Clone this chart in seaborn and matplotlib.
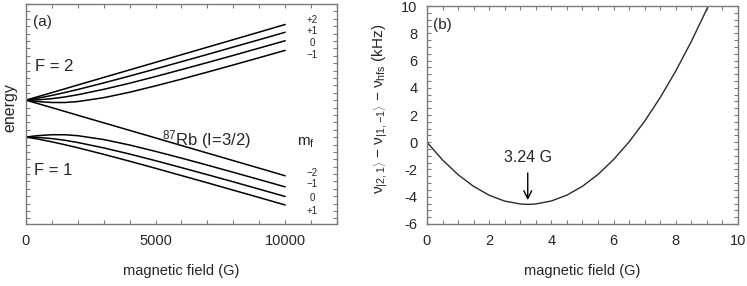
import numpy as np
import pandas as pd
import seaborn as sns
import matplotlib.pyplot as plt
from matplotlib.ticker import MultipleLocator, FuncFormatter

# ---- panel (a): Breit-Rabi levels, energy in arbitrary units
field_G = [0, 250, 500, 1000, 1500, 2000, 3000, 4000, 5000, 6000, 7000, 8000, 9000, 10000]

f2_p2 = [0, 0.26, 0.51, 1.02, 1.53, 2.05, 3.07, 4.09, 5.11, 6.14, 7.16, 8.18, 9.20, 10.23]
f2_p1 = [0, 0.14, 0.29, 0.64, 1.03, 1.44, 2.33, 3.26, 4.22, 5.20, 6.18, 7.18, 8.17, 9.18]
f2_0 = [0, 0.01, 0.05, 0.20, 0.43, 0.73, 1.46, 2.29, 3.19, 4.13, 5.08, 6.05, 7.04, 8.03]
f2_m1 = [0, -0.12, -0.21, -0.32, -0.32, -0.19, 0.33, 1.07, 1.93, 2.84, 3.79, 4.76, 5.74, 6.73]
f2_m2 = [0, -0.26, -0.51, -1.02, -1.53, -2.05, -3.07, -4.09, -5.11, -6.14, -7.16, -8.18, -9.20, -10.23]
f1_m1 = [-5, -4.88, -4.79, -4.68, -4.68, -4.81, -5.33, -6.07, -6.93, -7.84, -8.79, -9.76, -10.74, -11.73]
f1_0 = [-5, -5.01, -5.05, -5.20, -5.43, -5.73, -6.46, -7.29, -8.19, -9.13, -10.08, -11.05, -12.04, -13.03]
f1_p1 = [-5, -5.14, -5.29, -5.64, -6.03, -6.44, -7.33, -8.26, -9.22, -10.20, -11.18, -12.18, -13.17, -14.18]

upper_labels = ['+2', '+1', '0', '\u22121']
upper_label_y = [10.9, 9.32, 7.74, 6.08]
lower_labels = ['\u22122', '\u22121', '0', '+1']
lower_label_y = [-9.82, -11.39, -13.2, -14.96]

# ---- panel (b): clock transition shift vs field (kHz)
field_b = [0, 0.5, 1.0, 1.5, 2.0, 2.5, 3.0, 3.24, 3.5, 4.0, 4.5, 5.0, 5.5,
           6.0, 6.5, 7.0, 7.5, 8.0, 8.5, 9.0, 9.1]
shift_khz = [0, -1.30, -2.38, -3.24, -3.89, -4.32, -4.53, -4.56, -4.53, -4.31,
             -3.88, -3.23, -2.36, -1.27, 0.03, 1.55, 3.28, 5.23, 7.40, 9.78, 10.3]

levels = {'f2_p2': f2_p2, 'f2_p1': f2_p1, 'f2_0': f2_0, 'f2_m1': f2_m1,
          'f2_m2': f2_m2, 'f1_m1': f1_m1, 'f1_0': f1_0, 'f1_p1': f1_p1}
df = pd.concat([pd.DataFrame({'field': field_G, 'energy': v, 'state': k})
                for k, v in levels.items()])
df_b = pd.DataFrame({'field': field_b, 'shift': shift_khz})

sns.set_style("ticks")
plt.rcParams['font.family'] = ['Liberation Sans', 'DejaVu Sans']
plt.rcParams['mathtext.fontset'] = 'custom'
plt.rcParams['mathtext.rm'] = 'Liberation Sans'
plt.rcParams['mathtext.it'] = 'Liberation Sans:italic'

spine_col = '#7a7a7a'
fig = plt.figure(figsize=(7.47, 2.86), dpi=100)
ax1 = fig.add_axes([0.0348, 0.2168, 0.4163, 0.7692])
ax2 = fig.add_axes([0.5716, 0.2168, 0.4163, 0.7622])

sns.lineplot(data=df, x='field', y='energy', hue='state',
             palette=['black'] * 8, linewidth=1.1, legend=False, ax=ax1, sort=False)
ax1.set_xlim(0, 12000)
ax1.set_ylim(-16.75, 13.0)
ax1.xaxis.set_major_locator(MultipleLocator(5000))
ax1.xaxis.set_minor_locator(MultipleLocator(1000))
ax1.yaxis.set_major_locator(MultipleLocator(1))
ax1.tick_params(axis='y', labelleft=False)
ax1.set_xlabel('magnetic field (G)', fontsize=10.5, labelpad=12)
ax1.set_ylabel('energy', fontsize=11.5)
ax1.yaxis.set_label_coords(-0.027, 0.53)

for lab, y in zip(upper_labels + lower_labels, upper_label_y + lower_label_y):
    ax1.text(11030, y, lab, fontsize=7, ha='center', va='center')
ax1.text(0.022, 0.918, '(a)', transform=ax1.transAxes, fontsize=11, va='center')
ax1.text(0.029, 0.718, 'F = 2', transform=ax1.transAxes, fontsize=12, va='center')
ax1.text(0.025, 0.245, 'F = 1', transform=ax1.transAxes, fontsize=12, va='center')
ax1.text(0.438, 0.385, r'$^{87}$Rb (I=3/2)', transform=ax1.transAxes, fontsize=12, va='center')
ax1.text(0.871, 0.37, r'm$_\mathregular{f}$', transform=ax1.transAxes, fontsize=11, va='center')

sns.lineplot(data=df_b, x='field', y='shift', color='#2a2a2a', linewidth=1.0, ax=ax2)
ax2.set_xlim(0, 10)
ax2.set_ylim(-6, 10)
ax2.xaxis.set_major_locator(MultipleLocator(2))
ax2.xaxis.set_minor_locator(MultipleLocator(0.5))
ax2.yaxis.set_major_locator(MultipleLocator(2))
ax2.yaxis.set_minor_locator(MultipleLocator(0.5))
ax2.yaxis.set_major_formatter(FuncFormatter(lambda v, p: '%d' % v))
ax2.set_xlabel('magnetic field (G)', fontsize=10.5, labelpad=12)
ax2.set_ylabel(r'$\mathrm{\nu}_{|2,1\rangle}$ $-$ $\mathrm{\nu}_{|1,\mathregular{-}1\rangle}$ $-$ $\mathrm{\nu}_\mathregular{hfs}$ (kHz)',
               fontsize=11)
ax2.yaxis.set_label_coords(-0.118, 0.53)
ax2.text(0.02, 0.913, '(b)', transform=ax2.transAxes, fontsize=11, va='center')
ax2.annotate('', xy=(3.24, -4.45), xytext=(3.24, -2.05),
             arrowprops=dict(arrowstyle='->', color='black', lw=1.0, mutation_scale=14))
ax2.text(3.24, -1.15, '3.24 G', fontsize=11.5, ha='center', va='center')

for ax in (ax1, ax2):
    for s in ax.spines.values():
        s.set_color(spine_col)
        s.set_linewidth(1.0)
    ax.tick_params(which='both', direction='in', top=True, right=True,
                   length=3, width=0.8, color=spine_col, labelsize=10.5, pad=7)

fig.savefig('out.png', dpi=100)
